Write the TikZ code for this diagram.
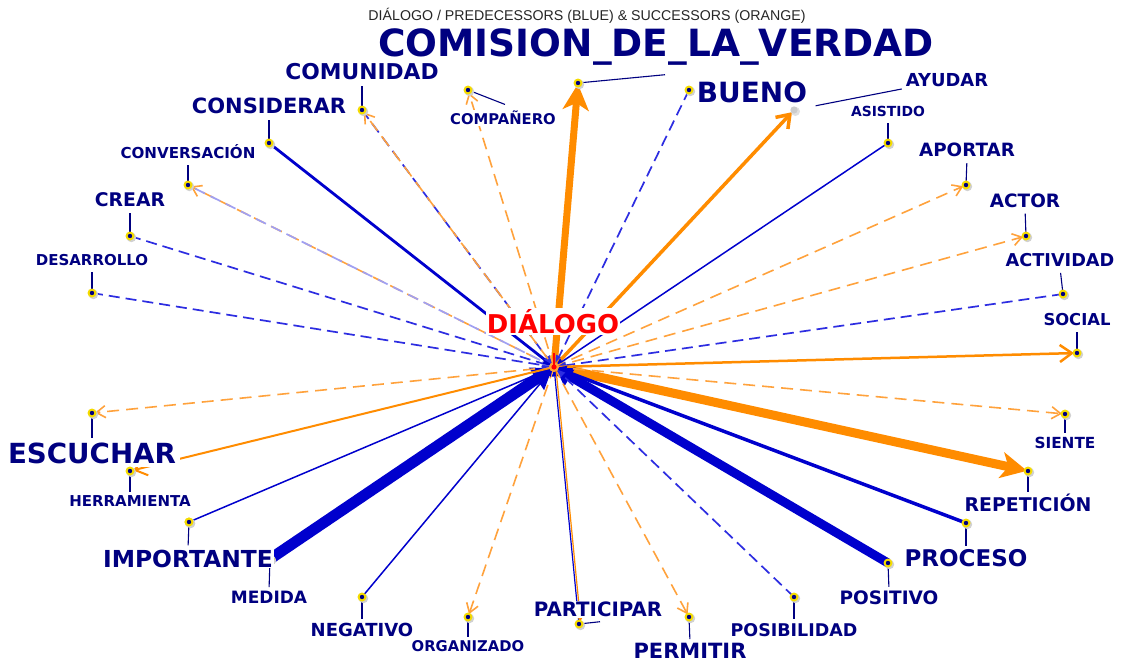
\documentclass[tikz,border=0pt]{standalone}
\usepackage{fontspec}
\setmainfont{DejaVu Sans}
\newfontfamily\titlefont{Liberation Sans}
\usetikzlibrary{arrows.meta}
\definecolor{navyc}{RGB}{0,0,128}
\definecolor{blueS}{RGB}{0,0,205}
\definecolor{blueD}{RGB}{45,45,225}
\definecolor{orangeS}{RGB}{255,140,0}
\definecolor{orangeD}{RGB}{255,162,60}
\definecolor{dotY}{RGB}{245,220,0}
\tikzset{
  lbl/.style={font=\bfseries\fontsize{#1pt}{#1pt}\selectfont, text=navyc, anchor=base, yshift=-0.3645*#1pt, fill=white, inner sep=1pt},
  leader/.style={draw=navyc, line width=1.1pt},
  bdash/.style={draw=blueD, line width=1.7pt, dash pattern=on 11pt off 6pt, -{Triangle[length=9pt,width=7pt]}, shorten >=3pt},
  bline/.style={draw=blueS, line width=#1pt, -{Triangle[length=6pt 1.2,width=4pt 2]}, shorten >=2pt},
  odash/.style={draw=orangeD, line width=1.6pt, dash pattern=on 12pt off 7pt, -{Straight Barb[length=9pt,width=12pt]}, shorten >=3pt},
  omed/.style={draw=orangeS, line width=#1pt, -{Straight Barb[length=12pt,width=17pt]}, shorten >=3pt},
  othick/.style={draw=orangeS, line width=#1pt, -{Stealth[length=26pt,width=26pt,inset=7pt]}, shorten >=1pt},
}
\begin{document}
\begin{tikzpicture}[x=1pt,y=-1pt]
\useasboundingbox (0,0) rectangle (1123,664);
\fill[white] (0,0) rectangle (1123,664);
% coordinates of the term dots
\coordinate (c) at (554,367);
\coordinate (comision) at (578,83);
\coordinate (bueno) at (689,90);
\coordinate (ayudar) at (794,110);
\coordinate (asistido) at (888,143);
\coordinate (aportar) at (966,185);
\coordinate (actor) at (1026,236);
\coordinate (actividad) at (1063,294);
\coordinate (social) at (1077,353);
\coordinate (siente) at (1065,414);
\coordinate (repeticion) at (1028,471);
\coordinate (proceso) at (966,523);
\coordinate (positivo) at (888,563);
\coordinate (posibilidad) at (794,597);
\coordinate (permitir) at (689,617);
\coordinate (participar) at (579,624);
\coordinate (organizado) at (468,617);
\coordinate (negativo) at (362,597);
\coordinate (medida) at (270,559);
\coordinate (importante) at (189,522);
\coordinate (herramienta) at (130,471);
\coordinate (escuchar) at (92,413);
\coordinate (desarrollo) at (92,293);
\coordinate (crear) at (130,236);
\coordinate (conversacion) at (188,185);
\coordinate (considerar) at (269,143);
\coordinate (comunidad) at (362,110);
\coordinate (companero) at (468,90);
% edges
\draw[othick=7] (c) -- (comision);
\draw[othick=9] (c) -- (repeticion);
\draw[bline=11] (medida) -- (c);
\draw[bline=9] (positivo) -- (c);
\draw[bdash] (bueno) -- (c);
\draw[omed=3.5] (c) -- (ayudar);
\draw[bline=1.5] (asistido) -- (c);
\draw[odash] (c) -- (aportar);
\draw[odash] (c) -- (actor);
\draw[bdash] (actividad) -- (c);
\draw[omed=2.5] (c) -- (social);
\draw[odash] (c) -- (siente);
\draw[bline=3.5] (proceso) -- (c);
\draw[bdash] (posibilidad) -- (c);
\draw[odash] (c) -- (permitir);
\draw[bline=1.2] (participar) -- (c);
\draw[omed=1.2] ([xshift=1.8pt]c) -- ([xshift=1.8pt]participar);
\draw[odash] (c) -- (organizado);
\draw[bline=1.5] (negativo) -- (c);
\draw[bline=1.5] (importante) -- (c);
\draw[omed=2] (c) -- (herramienta);
\draw[odash] (c) -- (escuchar);
\draw[bdash] (desarrollo) -- (c);
\draw[bdash] (crear) -- (c);
\draw[odash] (c) -- (conversacion);
\draw[bdash, draw=blueD!45, dash phase=9pt] (conversacion) -- (c);
\draw[bline=2.8] (considerar) -- (c);
\draw[bdash] (comunidad) -- (c);
\draw[odash, dash phase=9pt] (c) -- (comunidad);
\draw[odash] (c) -- (companero);
% centre
\fill[orangeS!80] (c) circle (5);
\draw[red, line width=1.2pt] (c) -- ++(0,-14);
\fill[red] (c) circle (2.6);
% labels
\node[lbl=14.2, font=\titlefont\fontsize{14.2pt}{14.2pt}\selectfont, text=black!85, fill=none] (title) at (587,15.5) {DIÁLOGO / PREDECESSORS (BLUE) \& SUCCESSORS (ORANGE)};
\node[lbl=37.5] (lComision) at (656,43) {COMISION\_DE\_LA\_VERDAD};
\node[lbl=21.8] (lComunidad) at (362,72) {COMUNIDAD};
\node[lbl=21] (lConsiderar) at (269,106) {CONSIDERAR};
\node[lbl=15.1] (lConversacion) at (188,153) {CONVERSACIÓN};
\node[lbl=18.8] (lCrear) at (130,200) {CREAR};
\node[lbl=15] (lDesarrollo) at (92,260) {DESARROLLO};
\node[lbl=14.8] (lCompanero) at (503,119) {COMPAÑERO};
\node[lbl=27.9] (lBueno) at (752,92.5) {BUENO};
\node[lbl=17.9] (lAyudar) at (947,80) {AYUDAR};
\node[lbl=13.9] (lAsistido) at (888,111.5) {ASISTIDO};
\node[lbl=18.3] (lAportar) at (967,150) {APORTAR};
\node[lbl=18.4] (lActor) at (1025,200.5) {ACTOR};
\node[lbl=17.7] (lActividad) at (1060,260) {ACTIVIDAD};
\node[lbl=16.4] (lSocial) at (1077,320) {SOCIAL};
\node[lbl=15.3] (lSiente) at (1065,443) {SIENTE};
\node[lbl=18.9] (lRepeticion) at (1028,505) {REPETICIÓN};
\node[lbl=23] (lProceso) at (966,558.5) {PROCESO};
\node[lbl=18.5] (lPositivo) at (889,598) {POSITIVO};
\node[lbl=17.5] (lPosibilidad) at (794,630) {POSIBILIDAD};
\node[lbl=21] (lPermitir) at (690,651) {PERMITIR};
\node[lbl=19.8] (lParticipar) at (598,609) {PARTICIPAR};
\node[lbl=14.8] (lOrganizado) at (468,646.5) {ORGANIZADO};
\node[lbl=18] (lNegativo) at (362,630) {NEGATIVO};
\node[lbl=17] (lMedida) at (269,597.5) {MEDIDA};
\node[lbl=15] (lHerramienta) at (130,501.5) {HERRAMIENTA};
\node[lbl=27.7, inner sep=4pt] (lEscuchar) at (92,453) {ESCUCHAR};
% leaders
\draw[leader, shorten >=5pt] (comunidad) -- (lComunidad.south);
\draw[leader, shorten >=5pt] (considerar) -- (lConsiderar.south);
\draw[leader, shorten >=5pt] (conversacion) -- (lConversacion.south);
\draw[leader, shorten >=5pt] (crear) -- (lCrear.south);
\draw[leader, shorten >=5pt] (desarrollo) -- (lDesarrollo.south);
\draw[leader] (companero) -- ([shift={(2,-5)}]lCompanero.north);
\draw[leader] (comision) -- ([shift={(9,8)}]lComision.south);
\draw[leader, shorten <=22pt] (ayudar) -- ([shift={(-3,1)}]lAyudar.south west);
\draw[leader, shorten >=5pt] (asistido) -- (lAsistido.south);
\draw[leader, shorten >=5pt] (aportar) -- (lAportar.south);
\draw[leader, shorten >=5pt] (actor) -- (lActor.south);
\draw[leader, shorten >=5pt] (actividad) -- (lActividad.south);
\draw[leader, shorten >=5pt] (social) -- (lSocial.south);
\draw[leader, shorten >=3pt] (siente) -- (lSiente.north);
\draw[leader, shorten >=1pt] (repeticion) -- (lRepeticion.north);
\draw[leader, shorten >=3pt] (proceso) -- (lProceso.north);
\draw[leader, shorten >=3pt] (positivo) -- (lPositivo.north);
\draw[leader, shorten >=3pt] (posibilidad) -- (lPosibilidad.north);
\draw[leader, shorten >=3pt] (permitir) -- (lPermitir.north);
\draw[leader] (participar) -- ([shift={(2,4)}]lParticipar.south);
\draw[leader, shorten >=3pt] (organizado) -- (lOrganizado.north);
\draw[leader, shorten >=3pt] (negativo) -- (lNegativo.north);
\draw[leader, shorten >=3pt] (medida) -- (lMedida.north);
\draw[leader, shorten >=3pt] (herramienta) -- (lHerramienta.north);
\draw[leader] (escuchar) -- (lEscuchar.north);
% dots
\foreach \p in {comision,bueno,asistido,aportar,actor,actividad,social,siente,repeticion,proceso,positivo,posibilidad,permitir,participar,organizado,negativo,medida,importante,herramienta,escuchar,desarrollo,crear,conversacion,considerar,comunidad,companero}{
  \fill[black!18] ([shift={(1.4,1.4)}]\p) circle (4.8);
  \fill[dotY] (\p) circle (4.5);
  \fill[navyc] (\p) circle (2.2);
}
\fill[black!12] ([shift={(1.4,1.4)}]ayudar) circle (4.6);
\fill[black!20] (ayudar) circle (3.6);
% labels drawn after dots where they overlap
\node[lbl=23.4] (lImportante) at (188,558.5) {IMPORTANTE};
\draw[leader, shorten >=3pt] (importante) -- (lImportante.north);
\fill[black!18] ([shift={(1.4,1.4)}]importante) circle (4.8);
\fill[dotY] (importante) circle (4.5);
\fill[navyc] (importante) circle (2.2);
\node[lbl=25.9, text=red] (lDialogo) at (553,324) {DIÁLOGO};
\end{tikzpicture}
\end{document}
